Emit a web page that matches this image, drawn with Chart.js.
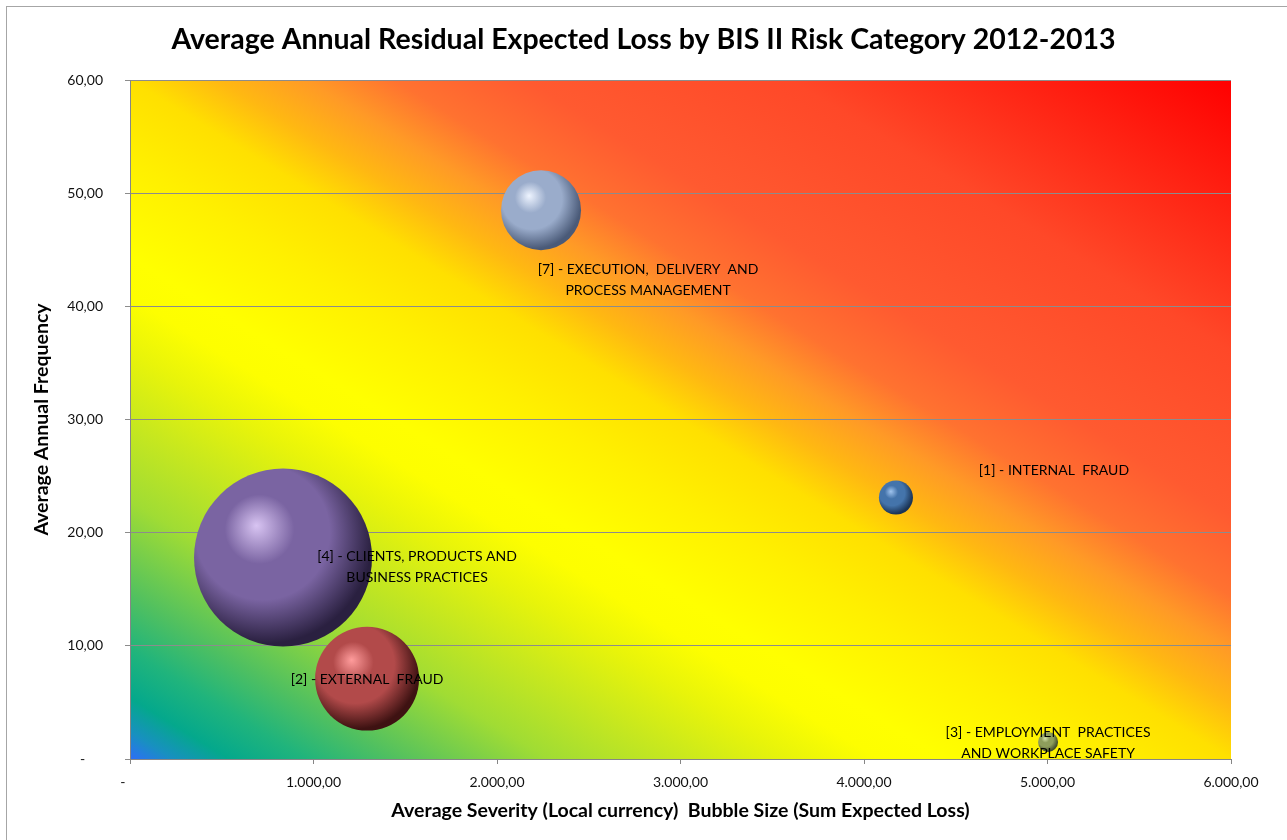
<!DOCTYPE html>
<html>
<head>
<meta charset="utf-8">
<title>Average Annual Residual Expected Loss by BIS II Risk Category 2012-2013</title>
<script src="https://cdn.jsdelivr.net/npm/chart.js@4.4.1/dist/chart.umd.min.js"></script>
<style>
  html, body { margin: 0; padding: 0; background: #fff; overflow: hidden; }
  #frame { position: absolute; left: 6px; top: 6px; width: 1400px; height: 1000px; border: 1px solid #a6a6a6; }
  #wrap { position: absolute; left: 0; top: 0; width: 1287px; height: 840px; }
</style>
</head>
<body>
<div id="frame"></div>
<div id="wrap"><canvas id="bubbleChart"></canvas></div>
<script>
// drawn biggest first, as Excel does, so the small bubbles stay on top
const categories = [
    ['[4] - CLIENTS, PRODUCTS AND', 'BUSINESS PRACTICES'],
    ['[2] - EXTERNAL  FRAUD'],
    ['[7] - EXECUTION,  DELIVERY  AND', 'PROCESS MANAGEMENT'],
    ['[1] - INTERNAL  FRAUD'],
    ['[3] - EMPLOYMENT  PRACTICES', 'AND WORKPLACE SAFETY']
];
const avgSeverity = [834, 1292, 2240, 4174, 5003];
const avgFrequency = [17.8, 7.1, 48.5, 23.1, 1.5];
const sumExpectedLoss = [792, 270, 160, 29, 10];

const xTickValues = [0, 1000, 2000, 3000, 4000, 5000, 6000];
const yTickValues = [0, 10, 20, 30, 40, 50, 60];

// sphere colours: highlight, base, shadow
const sphereColors = [
    ['#d8c4f2', '#7a64a2', '#2a2040'],
    ['#ff9c9c', '#b24a4a', '#3e1212'],
    ['#eef4ff', '#9aaccb', '#4a5a78'],
    ['#a0c4ee', '#4474ab', '#1b3456'],
    ['#d4e2aa', '#8e9e5c', '#434d2c']
];
// label centre relative to bubble centre, px
const labelOffsets = [[134, -1], [0, 1], [107, 59], [158, -27], [0, -10]];

const MAX_RADIUS = 89;
const FONT = 'Lato, "DejaVu Sans", sans-serif';

function fmtNumber(v) {
    if (v === 0) return '-';
    const parts = v.toFixed(2).split('.');
    return parts[0].replace(/\B(?=(\d{3})+(?!\d))/g, '.') + ',' + parts[1];
}

const maxLoss = Math.max(...sumExpectedLoss);
const points = avgSeverity.map((x, i) => ({
    x: x,
    y: avgFrequency[i],
    r: MAX_RADIUS * Math.sqrt(sumExpectedLoss[i] / maxLoss)
}));

function sphereFill(context) {
    const chart = context.chart;
    const i = context.dataIndex;
    const c = sphereColors[i];
    if (!chart.chartArea || !chart.scales.x || i === undefined) return c[1];
    const p = points[i];
    const cx = chart.scales.x.getPixelForValue(p.x);
    const cy = chart.scales.y.getPixelForValue(p.y);
    const r = p.r;
    const g = chart.ctx.createRadialGradient(cx - 0.3 * r, cy - 0.36 * r, 0, cx - 0.18 * r, cy - 0.22 * r, 1.3 * r);
    g.addColorStop(0, c[0]);
    g.addColorStop(0.3, c[1]);
    g.addColorStop(0.58, c[1]);
    g.addColorStop(0.92, c[2]);
    g.addColorStop(1, c[2]);
    return g;
}

function noScalePadding(scale) {
    scale.paddingLeft = 0;
    scale.paddingRight = 0;
    scale.paddingTop = 0;
    scale.paddingBottom = 0;
}

const backgroundPlugin = {
    id: 'riskBackground',
    beforeDraw(chart) {
        const { ctx, chartArea: a } = chart;
        const w = a.right - a.left, h = a.bottom - a.top;
        const cx = a.left + w / 2, cy = a.top + h / 2;
        const t = (w * h) / (w * w + h * h);
        const g = ctx.createLinearGradient(cx - t * h, cy + t * w, cx + t * h, cy - t * w);
        g.addColorStop(0, '#2e6ef8');
        g.addColorStop(0.02, '#1890c0');
        g.addColorStop(0.045, '#04a88c');
        g.addColorStop(0.08, '#20b47c');
        g.addColorStop(0.12, '#50c060');
        g.addColorStop(0.19, '#a0dc34');
        g.addColorStop(0.25, '#c8e81e');
        g.addColorStop(0.3, '#e8f40a');
        g.addColorStop(0.34, '#fdfe00');
        g.addColorStop(0.37, '#ffff00');
        g.addColorStop(0.44, '#fff000');
        g.addColorStop(0.5, '#ffe000');
        g.addColorStop(0.54, '#ffb812');
        g.addColorStop(0.58, '#ff9a26');
        g.addColorStop(0.62, '#ff7230');
        g.addColorStop(0.68, '#ff5a30');
        g.addColorStop(0.8, '#ff4828');
        g.addColorStop(1, '#ff0000');
        ctx.save();
        ctx.fillStyle = g;
        ctx.fillRect(a.left, a.top, w, h);
        ctx.restore();
    }
};

const labelPlugin = {
    id: 'bubbleLabels',
    afterDatasetsDraw(chart) {
        const { ctx, scales } = chart;
        ctx.save();
        ctx.font = '14px ' + FONT;
        ctx.fillStyle = '#000';
        ctx.textAlign = 'center';
        ctx.textBaseline = 'middle';
        categories.forEach((lines, i) => {
            const px = scales.x.getPixelForValue(avgSeverity[i]) + labelOffsets[i][0];
            const py = scales.y.getPixelForValue(avgFrequency[i]) + labelOffsets[i][1];
            lines.forEach((line, k) => ctx.fillText(line, px, py + k * 21));
        });
        ctx.restore();
    }
};

const tickFont = { family: FONT, size: 14 };
const titleFont = { family: FONT, size: 19.5, weight: 'bold' };

new Chart(document.getElementById('bubbleChart').getContext('2d'), {
    type: 'bubble',
    data: {
        datasets: [{
            label: 'BIS II Risk Category',
            data: points,
            backgroundColor: sphereFill,
            borderWidth: 0,
            hoverRadius: 0,
            clip: false
        }]
    },
    options: {
        responsive: true,
        maintainAspectRatio: false,
        animation: false,
        events: [],
        layout: { autoPadding: false, padding: 0 },
        plugins: {
            legend: { display: false },
            tooltip: { enabled: false },
            title: {
                display: true,
                text: 'Average Annual Residual Expected Loss by BIS II Risk Category 2012-2013',
                color: '#000',
                font: { family: FONT, size: 28.5, weight: 'bold' },
                padding: { top: 23, bottom: 22.8 }
            }
        },
        scales: {
            x: {
                type: 'linear',
                min: xTickValues[0],
                max: xTickValues[xTickValues.length - 1],
                afterBuildTicks(scale) { scale.ticks = xTickValues.map(v => ({ value: v })); },
                ticks: {
                    callback: v => v === 0 ? '-    ' : fmtNumber(v),
                    color: '#111', font: tickFont, padding: 10,
                    maxRotation: 0, autoSkip: false
                },
                grid: { drawOnChartArea: false, tickLength: 5, color: '#868686' },
                border: { color: '#868686' },
                title: {
                    display: true,
                    text: 'Average Severity (Local currency)  Bubble Size (Sum Expected Loss)',
                    color: '#000', font: titleFont,
                    padding: { top: 0, bottom: 18 }
                },
                afterFit(scale) { scale.height = 81; noScalePadding(scale); }
            },
            y: {
                min: yTickValues[0],
                max: yTickValues[yTickValues.length - 1],
                afterBuildTicks(scale) { scale.ticks = yTickValues.map(v => ({ value: v })); },
                ticks: {
                    callback: v => v === 0 ? '-     ' : fmtNumber(v),
                    color: '#111', font: tickFont, padding: 22
                },
                grid: { color: '#8c8c8c', tickLength: 5 },
                border: { color: '#868686' },
                title: {
                    display: true,
                    text: 'Average Annual Frequency',
                    color: '#000', font: titleFont,
                    padding: { top: 30, bottom: 0 }
                },
                afterFit(scale) { scale.width = 130; noScalePadding(scale); }
            },
            // empty right margin, keeps the chart title centred on the page
            yRight: {
                position: 'right',
                grid: { display: false },
                ticks: { display: false },
                border: { display: false },
                afterFit(scale) { scale.width = 56; noScalePadding(scale); }
            }
        }
    },
    plugins: [backgroundPlugin, labelPlugin]
});
</script>
</body>
</html>
